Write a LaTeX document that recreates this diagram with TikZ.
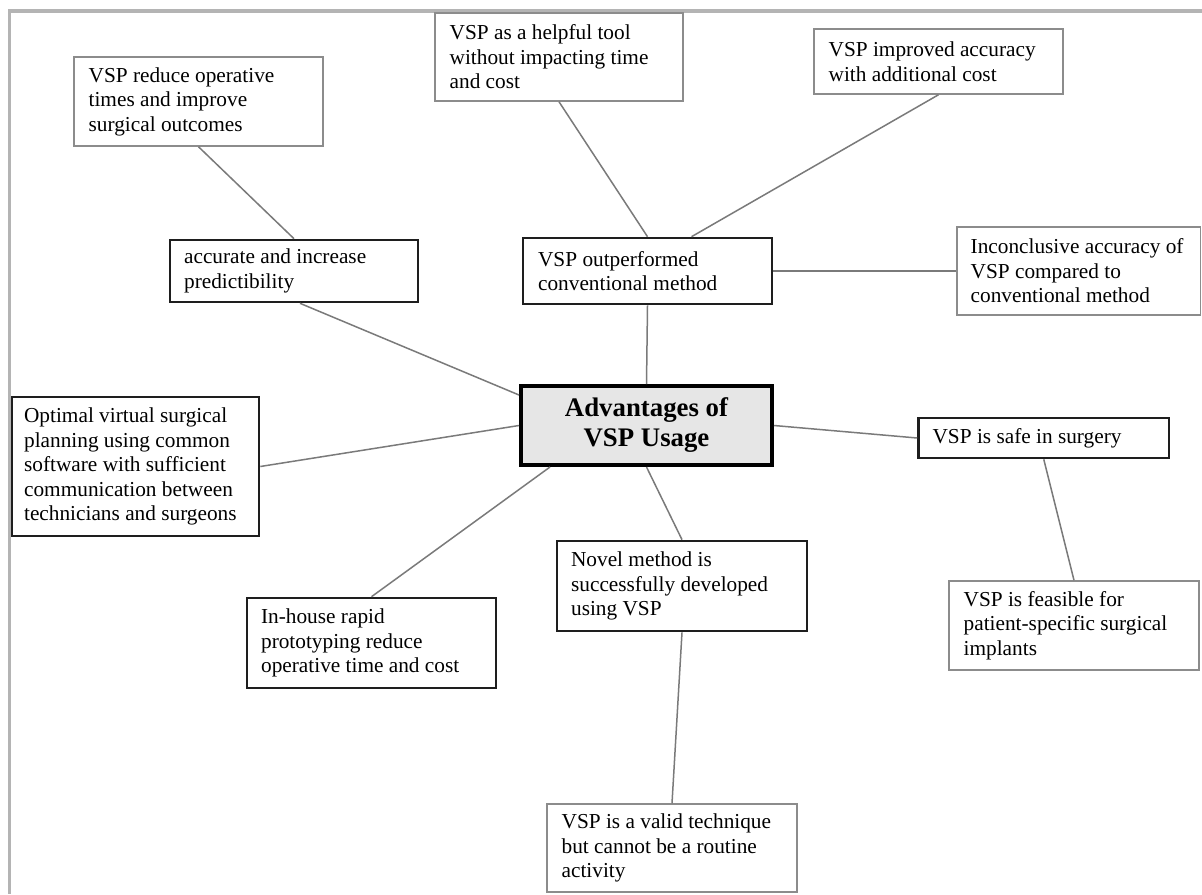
\documentclass[tikz,border=0pt]{standalone}
\usepackage{fontspec}
\setmainfont{Liberation Serif}
\usetikzlibrary{fit}
\definecolor{thinline}{HTML}{8C8C8C}
\definecolor{thickline}{HTML}{1E1E1E}
\definecolor{conn}{HTML}{7A7A7A}
\definecolor{frame}{HTML}{B4B4B4}
\definecolor{centerfill}{HTML}{E6E6E6}
\tikzset{
  thinbox/.style={draw=thinline, line width=0.75pt, inner sep=0pt, fill=white},
  thickbox/.style={draw=thickline, line width=1.3pt, inner sep=0pt, fill=white},
  centerbox/.style={draw=black, line width=2pt, inner sep=0pt, fill=centerfill},
  txt/.style={inner sep=0pt, align=left, anchor=west, font=\fontsize{10.65pt}{12.25pt}\selectfont},
  ttl/.style={inner sep=0pt, align=center, font=\fontsize{13.4pt}{15pt}\selectfont\bfseries},
  link/.style={draw=conn, line width=0.75pt}
}
\begin{document}
\begin{tikzpicture}[x=0.5pt,y=-0.5pt]
\useasboundingbox (0,0) rectangle (1202,894);
\fill[white] (0,0) rectangle (1202,894);
% frame
\coordinate (fTL) at (9.5,11);
\coordinate (fTR) at (1202,11);
\coordinate (fBL) at (9.5,894);
\draw[frame, line width=1.7pt] (fTR) -- (fTL) -- (fBL);

% boxes
\node[thinbox, fit={(74,57)(323,146)}] (reduce) {};
\node[thickbox, fit={(170,240)(418,302)}] (acc) {};
\node[thinbox, fit={(435,13)(683,101)}] (helpful) {};
\node[thinbox, fit={(814,29)(1063,94)}] (improved) {};
\node[thickbox, fit={(523,238)(772,304)}] (outperf) {};
\node[thinbox, fit={(957,227)(1200.5,315)}] (incon) {};
\node[centerbox, fit={(521,386)(772,465)}] (c) {};
\node[thickbox, fit={(12,397)(259,536)}] (optimal) {};
\node[thickbox, fit={(247,598)(496,688)}] (inhouse) {};
\node[thickbox, fit={(918.5,418)(1169,458)}] (safe) {};
\node[thickbox, fit={(557,541)(807,631)}] (novel) {};
\node[thinbox, fit={(949,581)(1199,670)}] (feasible) {};
\node[thinbox, fit={(547,804)(797,892)}] (valid) {};

% connectors
\draw[link] (reduce.south) -- (acc.north);
\draw[link] ([xshift=3pt]acc.south) -- ([yshift=-5.5pt]c.north west);
\draw[link] (helpful.south) -- (outperf.north);
\draw[link] (improved.south) -- ([xshift=22pt]outperf.north);
\draw[link] (outperf.east) -- (incon.west);
\draw[link] (outperf.south) -- (c.north);
\draw[link] (optimal.east) -- (c.west);
\draw[link] (inhouse.north) -- ([xshift=15.5pt]c.south west);
\draw[link] (c.south) -- (novel.north);
\draw[link] (c.east) -- (safe.west);
\draw[link] (safe.south) -- (feasible.north);
\draw[link] (novel.south) -- (valid.north);

% texts
\node[txt] (reduceT) at ([xshift=7.5pt]reduce.west) {VSP reduce operative\\times and improve\\surgical outcomes};
\node[txt] (accT) at ([xshift=7.5pt]acc.west) {accurate and increase\\predictibility};
\node[txt] (helpfulT) at ([xshift=7.5pt]helpful.west) {VSP as a helpful tool\\without impacting time\\and cost};
\node[txt] (improvedT) at ([xshift=7.5pt]improved.west) {VSP improved accuracy\\with additional cost};
\node[txt] (outperfT) at ([xshift=8pt]outperf.west) {VSP outperformed\\conventional method};
\node[txt] (inconT) at ([xshift=7pt]incon.west) {Inconclusive accuracy of\\VSP compared to\\conventional method};
\node[ttl] (cT) at (c.center) {Advantages of\\VSP Usage};
\node[txt] (optimalT) at ([xshift=6.5pt]optimal.west) {Optimal virtual surgical\\planning using common\\software with sufficient\\communication between\\technicians and surgeons};
\node[txt] (inhouseT) at ([xshift=7.5pt]inhouse.west) {In-house rapid\\prototyping reduce\\operative time and cost};
\node[txt] (safeT) at ([xshift=7.5pt]safe.west) {VSP is safe in surgery};
\node[txt] (novelT) at ([xshift=7.5pt]novel.west) {Novel method is\\successfully developed\\using VSP};
\node[txt] (feasibleT) at ([xshift=7.5pt]feasible.west) {VSP is feasible for\\patient-specific surgical\\implants};
\node[txt] (validT) at ([xshift=7.5pt]valid.west) {VSP is a valid technique\\but cannot be a routine\\activity};
\end{tikzpicture}
\end{document}
